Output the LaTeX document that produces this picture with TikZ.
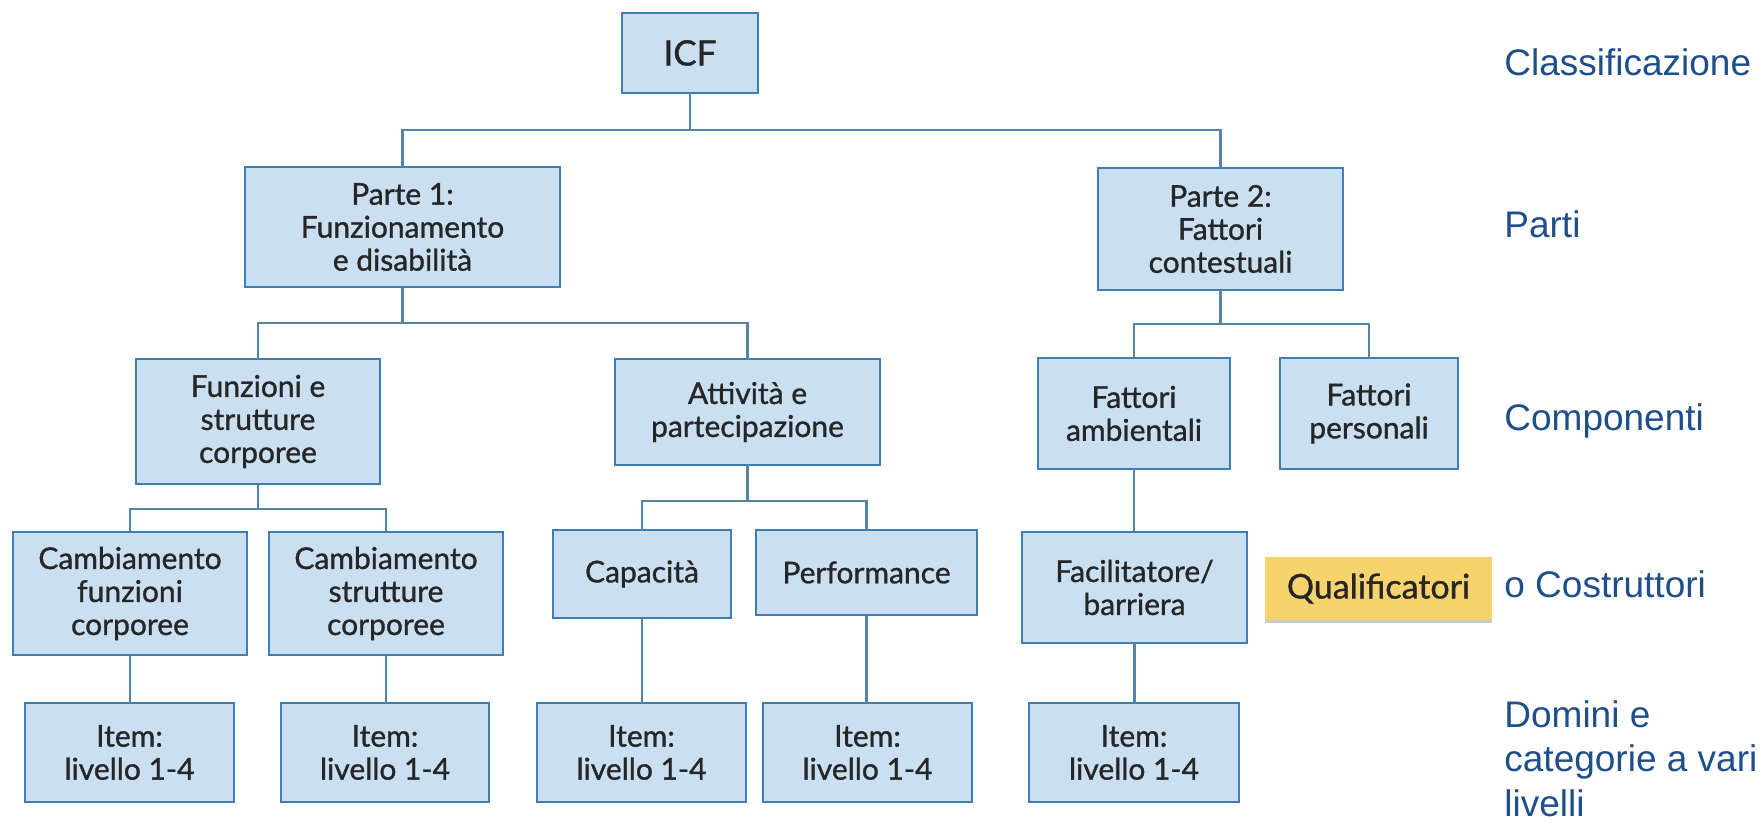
\documentclass[tikz,border=0pt]{standalone}
\usepackage{fontspec}
\setmainfont{Lato}[FakeBold=1.0]
\newfontfamily\lblfont{Liberation Sans}
\usetikzlibrary{shadows}
\definecolor{boxfill}{HTML}{CADFF1}
\definecolor{boxline}{HTML}{3F7DB3}
\definecolor{connline}{HTML}{5683A6}
\definecolor{boxtext}{HTML}{262626}
\definecolor{lblblue}{HTML}{1F4E8A}
\definecolor{qualfill}{HTML}{F6D36C}
\newcommand\mybox[6]{\node[box,minimum width={(#4-#2)*0.5pt},minimum height={(#5-#3)*0.5pt}] (#1) at ({(#2+#4)/2},{(#3+#5)/2}) {#6};}
\begin{document}
\begin{tikzpicture}[x=0.5pt,y=-0.5pt,
  box/.style={draw=boxline,fill=boxfill,line width=1.4pt,rectangle,inner sep=0pt,outer sep=0pt,align=center,text=boxtext,font=\fontsize{15}{16.5}\selectfont},
  conn/.style={draw=connline,line width=1.4pt},
  lbl/.style={anchor=base west,inner sep=0pt,text=lblblue,font=\lblfont\fontsize{18.5}{22.3}\selectfont,align=left},
  qual/.style={fill=qualfill,inner sep=0pt,text=boxtext,font=\fontsize{17}{19}\selectfont,
    drop shadow={shadow xshift=0pt,shadow yshift=-1.5pt,opacity=0.35,fill=black!60}}]
\fill[white] (0,0) rectangle (1761,834);
\useasboundingbox (0,0) rectangle (1761,834);
% level 0
\mybox{icf}{622}{13}{758}{93}{\fontsize{17.5}{19}\selectfont ICF}
% level 1
\mybox{p1}{245}{167}{560}{287}{Parte 1:\\Funzionamento\\e disabilità}
\mybox{p2}{1098}{168}{1343}{290}{Parte 2:\\Fattori\\contestuali}
% level 2
\mybox{funz}{136}{359}{380}{484}{Funzioni e\\strutture\\corporee}
\mybox{att}{615}{359}{880}{465}{Attività e\\partecipazione}
\mybox{amb}{1038}{358}{1230}{469}{Fattori\\ambientali}
\mybox{pers}{1280}{358}{1458}{469}{Fattori\\personali}
% level 3
\mybox{cf}{13}{532}{247}{655}{Cambiamento\\funzioni\\corporee}
\mybox{cs}{269}{532}{503}{655}{Cambiamento\\strutture\\corporee}
\mybox{cap}{553}{530}{731}{618}{Capacità}
\mybox{perf}{756}{530}{977}{615}{Performance}
\mybox{fac}{1022}{532}{1247}{643}{Facilitatore/\\barriera}
% level 4
\mybox{i1}{25}{703}{234}{802}{Item:\\livello 1-4}
\mybox{i2}{281}{703}{489}{802}{Item:\\livello 1-4}
\mybox{i3}{537}{703}{746}{802}{Item:\\livello 1-4}
\mybox{i4}{763}{703}{972}{802}{Item:\\livello 1-4}
\mybox{i5}{1029}{703}{1239}{802}{Item:\\livello 1-4}
% qualifier
\node[qual,minimum width=113.5pt,minimum height=31.5pt] (qual) at (1378.5,588.5) {Qualificatori};
% connectors
\draw[conn] (icf.south) -- ++(0,37) coordinate (j0);
\draw[conn] (p1.north) |- (j0) -| (p2.north);
\draw[conn] (p1.south) -- ++(0,36) coordinate (j1);
\draw[conn] (funz.north) |- (j1) -| (att.north);
\draw[conn] (p2.south) -- ++(0,34) coordinate (j2);
\draw[conn] (amb.north) |- (j2) -| (pers.north);
\draw[conn] (funz.south) -- ++(0,25) coordinate (j3);
\draw[conn] (cf.north) |- (j3) -| (cs.north);
\draw[conn] (att.south) -- ++(0,36) coordinate (j4);
\draw[conn] (cap.north) |- (j4) -| (perf.north);
\draw[conn] (amb.south) -- (amb.south |- fac.north);
\draw[conn] (cf.south) -- (cf.south |- i1.north);
\draw[conn] (cs.south) -- (cs.south |- i2.north);
\draw[conn] (cap.south) -- (cap.south |- i3.north);
\draw[conn] (perf.south) -- (perf.south |- i4.north);
\draw[conn] (fac.south) -- (fac.south |- i5.north);
% level labels
\node[lbl] (lclass) at (1504,76) {Classificazione};
\node[lbl] (lparti) at (1504,238) {Parti};
\node[lbl] (lcomp) at (1504,430) {Componenti};
\node[lbl] (lcost) at (1504,597) {o Costruttori};
\node[lbl,anchor=north west] (ldom) at (1504,700) {Domini e\\categorie a vari\\livelli};
\end{tikzpicture}
\end{document}
